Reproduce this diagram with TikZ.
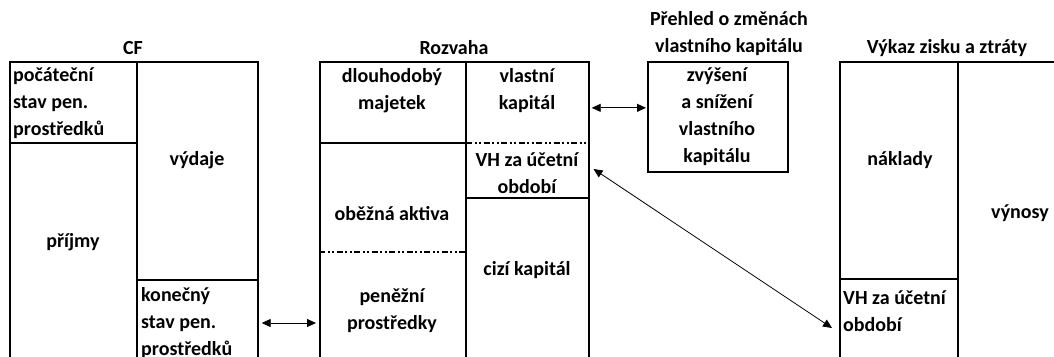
\documentclass[tikz,border=0pt]{standalone}
\usepackage{fontspec}
\setmainfont{Carlito}
\usepackage{xcolor}
\usepackage{tikz}
\usetikzlibrary{positioning}
\usetikzlibrary{arrows.meta}

\begin{document}
\begin{tikzpicture}[x=1pt,y=-1pt,
    every node/.style={font=\fontsize{20}{27}\selectfont\bfseries,inner sep=0pt},
    outer/.style={draw,line width=1.7pt,anchor=north west},
    inner/.style={line width=1.1pt},
    dashdot/.style={line width=1.5pt,dash pattern=on 6pt off 2.5pt on 2pt off 2.5pt on 2pt off 2.5pt},
    link/.style={line width=0.8pt,{Triangle[length=9pt,width=8pt]}-{Triangle[length=9pt,width=8pt]}}]
  \useasboundingbox (0,0) rectangle (1054,356);
  \clip (0,0) rectangle (1054,356);

  % titles
  \node (cftitle) at (133,48) {CF};
  \node (rztitle) at (454,48) {Rozvaha};
  \node[align=center] (pvtitle) at (729,34) {Přehled o změnách\\vlastního kapitálu};
  \node (vztitle) at (947,48) {Výkaz zisku a ztráty};

  % boxes
  \node[outer,minimum width=248pt,minimum height=360pt] (cf) at (9,61) {};
  \node[outer,minimum width=269pt,minimum height=360pt] (rozvaha) at (319,61) {};
  \node[outer,minimum width=140pt,minimum height=110pt] (prehled) at (647,61) {};
  \node[outer,minimum width=260pt,minimum height=360pt] (vykaz) at (839,61) {};

  % CF
  \draw[inner] (137,61) -- (137,400);
  \draw[inner] (9,143) -- (137,143);
  \draw[inner] (137,280) -- (257,280);
  \node[align=left,anchor=west] (pocatecni) at (13,103) {počáteční\\stav pen.\\prostředků};
  \node (vydaje) at (197,160) {výdaje};
  \node (prijmy) at (73,242) {příjmy};
  \node[align=left,anchor=west] (konecny) at (141,323) {konečný\\stav pen.\\prostředků};

  % Rozvaha
  \draw[inner] (466,61) -- (466,400);
  \draw[inner] (319,143) -- (466,143);
  \draw[dashdot] (466,143) -- (588,143);
  \draw[inner] (466,198) -- (588,198);
  \draw[dashdot] (319,252) -- (466,252);
  \node[align=center] (dm) at (392,91) {dlouhodobý\\majetek};
  \node[align=center] (vk) at (527,91) {vlastní\\kapitál};
  \node[align=center] (vhA) at (527,173) {VH za účetní\\období};
  \node (oa) at (392,214) {oběžná aktiva};
  \node (ck) at (527,270) {cizí kapitál};
  \node[align=center] (pp) at (392,311) {peněžní\\prostředky};

  % Prehled
  \node[align=center] (zs) at (717,117) {zvýšení\\a snížení\\vlastního\\kapitálu};

  % Vykaz
  \draw[inner] (958,61) -- (958,400);
  \draw[inner] (839,279) -- (958,279);
  \node (naklady) at (900,160) {náklady};
  \node (vynosy) at (1020,213) {výnosy};
  \node[align=left,anchor=west] (vhB) at (843,311) {VH za účetní\\období};

  \draw[link] ([xshift=3pt]cf.east |- konecny.west) -- ([xshift=-3pt]rozvaha.west |- konecny.west);
  \draw[link] ([xshift=2pt,yshift=9pt]rozvaha.east |- prehled.west) -- ([xshift=-1pt,yshift=9pt]prehled.west);
  \draw[link] ([xshift=15pt,yshift=4pt]vhA.east) -- ([xshift=-11pt,yshift=-17pt]vhB.west);
\end{tikzpicture}
\end{document}
